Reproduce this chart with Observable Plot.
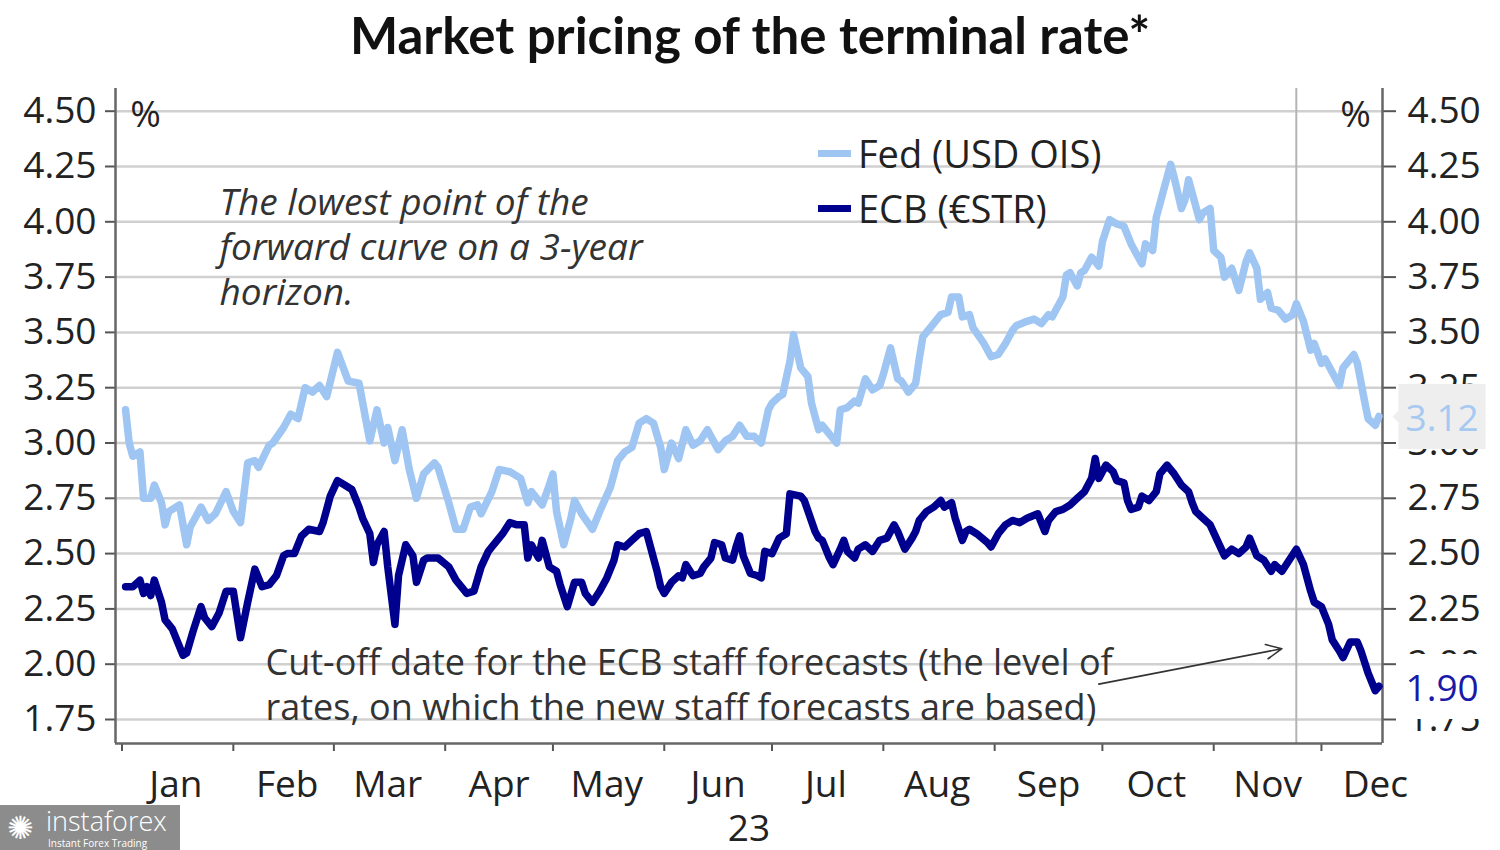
<!DOCTYPE html>
<html>
<head>
<meta charset="utf-8">
<script src="https://cdn.jsdelivr.net/npm/d3@7"></script>
<script src="https://cdn.jsdelivr.net/npm/@observablehq/plot@0.6"></script>
<style>
  html, body { margin: 0; padding: 0; background: #fff; }
  body { width: 1500px; height: 850px; overflow: hidden; position: relative; font-family: "Open Sans", sans-serif; color: #222; }
  #title { position: absolute; left: 0; top: 5px; width: 1500px; text-align: center; font-family: Lato, sans-serif; font-weight: 700; font-size: 51px; line-height: 60px; color: #111; }
  #chart { position: absolute; left: 0; top: 78px; }
  .lg { position: absolute; font-size: 38px; line-height: 46px; color: #222; white-space: nowrap; }
  .sw { position: absolute; width: 33px; height: 7px; }
  #logo { position: absolute; left: 0; top: 805px; width: 180px; height: 45px; background: #8c8c8c; color: #fff; }
  #logo .big { position: absolute; left: 46px; top: 1px; font-size: 27px; line-height: 29px; font-family: "Open Sans", sans-serif; font-weight: 300; white-space: nowrap; }
  #logo .small { position: absolute; left: 48px; top: 33px; font-size: 10px; line-height: 11px; white-space: nowrap; }
  #logo .icon { position: absolute; left: 7px; top: 4px; font-size: 32px; line-height: 36px; }
</style>
</head>
<body>
<div id="title">Market pricing of the terminal rate*</div>
<div id="chart"></div>
<div class="sw" style="left:818px; top:150px; background:#9fc5f3;"></div>
<div class="lg" style="left:858px; top:130px;">Fed (USD OIS)</div>
<div class="sw" style="left:818px; top:205px; background:#00008f;"></div>
<div class="lg" style="left:858px; top:185px;">ECB (€STR)</div>
<div id="logo"><span class="icon">✺</span><span class="big">instaforex</span><span class="small">Instant Forex Trading</span></div>
<script>
// ---------- DATA ----------
const fedDates = ["2023-01-02","2023-01-03","2023-01-04","2023-01-06","2023-01-07","2023-01-09","2023-01-10","2023-01-12","2023-01-13","2023-01-14","2023-01-17","2023-01-19","2023-01-20","2023-01-23","2023-01-25","2023-01-27","2023-01-30","2023-02-01","2023-02-03","2023-02-05","2023-02-07","2023-02-08","2023-02-11","2023-02-12","2023-02-15","2023-02-17","2023-02-19","2023-02-21","2023-02-23","2023-02-25","2023-02-27","2023-03-02","2023-03-05","2023-03-08","2023-03-11","2023-03-13","2023-03-15","2023-03-16","2023-03-18","2023-03-20","2023-03-22","2023-03-24","2023-03-26","2023-03-29","2023-03-30","2023-04-02","2023-04-04","2023-04-06","2023-04-08","2023-04-10","2023-04-11","2023-04-14","2023-04-16","2023-04-19","2023-04-22","2023-04-24","2023-04-25","2023-04-28","2023-04-30","2023-05-01","2023-05-02","2023-05-04","2023-05-06","2023-05-07","2023-05-09","2023-05-12","2023-05-14","2023-05-17","2023-05-19","2023-05-21","2023-05-23","2023-05-25","2023-05-27","2023-05-29","2023-05-31","2023-06-01","2023-06-03","2023-06-05","2023-06-07","2023-06-09","2023-06-11","2023-06-13","2023-06-14","2023-06-16","2023-06-18","2023-06-20","2023-06-22","2023-06-24","2023-06-26","2023-06-28","2023-06-30","2023-07-01","2023-07-03","2023-07-04","2023-07-06","2023-07-07","2023-07-09","2023-07-11","2023-07-12","2023-07-14","2023-07-15","2023-07-17","2023-07-19","2023-07-20","2023-07-22","2023-07-24","2023-07-25","2023-07-27","2023-07-29","2023-07-31","2023-08-01","2023-08-03","2023-08-05","2023-08-06","2023-08-08","2023-08-10","2023-08-11","2023-08-12","2023-08-15","2023-08-17","2023-08-19","2023-08-20","2023-08-22","2023-08-23","2023-08-25","2023-08-26","2023-08-29","2023-08-31","2023-09-02","2023-09-04","2023-09-06","2023-09-07","2023-09-10","2023-09-12","2023-09-14","2023-09-16","2023-09-17","2023-09-20","2023-09-21","2023-09-22","2023-09-24","2023-09-25","2023-09-26","2023-09-28","2023-09-30","2023-10-01","2023-10-03","2023-10-05","2023-10-07","2023-10-09","2023-10-12","2023-10-13","2023-10-15","2023-10-16","2023-10-18","2023-10-20","2023-10-21","2023-10-23","2023-10-24","2023-10-25","2023-10-26","2023-10-28","2023-10-29","2023-10-31","2023-11-01","2023-11-03","2023-11-04","2023-11-06","2023-11-08","2023-11-10","2023-11-11","2023-11-13","2023-11-14","2023-11-16","2023-11-17","2023-11-19","2023-11-21","2023-11-23","2023-11-24","2023-11-26","2023-11-28","2023-11-29","2023-12-01","2023-12-02","2023-12-04","2023-12-06","2023-12-07","2023-12-10","2023-12-11","2023-12-13","2023-12-14","2023-12-16","2023-12-17"];
const fedValues = [3.15,3.00,2.94,2.96,2.75,2.75,2.81,2.73,2.63,2.69,2.72,2.54,2.62,2.71,2.65,2.68,2.78,2.69,2.64,2.91,2.92,2.89,2.99,3.00,3.07,3.13,3.11,3.25,3.23,3.26,3.21,3.41,3.28,3.27,3.01,3.15,3.00,3.07,2.92,3.06,2.88,2.75,2.86,2.91,2.89,2.73,2.61,2.61,2.71,2.72,2.68,2.78,2.88,2.87,2.84,2.73,2.78,2.72,2.81,2.86,2.69,2.54,2.66,2.74,2.68,2.61,2.69,2.80,2.92,2.96,2.98,3.09,3.11,3.09,2.98,2.88,3.00,2.93,3.06,2.99,3.01,3.06,3.03,2.97,3.01,3.03,3.08,3.03,3.03,3.00,3.15,3.18,3.21,3.22,3.37,3.49,3.34,3.30,3.18,3.06,3.08,3.04,3.00,3.15,3.16,3.19,3.18,3.29,3.24,3.26,3.31,3.43,3.29,3.28,3.23,3.27,3.38,3.48,3.54,3.58,3.59,3.66,3.66,3.57,3.58,3.52,3.45,3.39,3.40,3.45,3.51,3.53,3.55,3.56,3.54,3.58,3.57,3.66,3.76,3.77,3.71,3.77,3.78,3.84,3.80,3.91,4.01,3.99,3.98,3.90,3.81,3.90,3.87,4.02,4.14,4.26,4.20,4.06,4.10,4.19,4.13,4.01,4.04,4.06,3.87,3.84,3.75,3.79,3.69,3.82,3.86,3.79,3.65,3.68,3.61,3.60,3.56,3.58,3.63,3.55,3.42,3.45,3.36,3.38,3.32,3.26,3.34,3.40,3.36,3.19,3.11,3.08,3.12];

const ecbDates = ["2023-01-02","2023-01-04","2023-01-06","2023-01-07","2023-01-08","2023-01-09","2023-01-10","2023-01-12","2023-01-13","2023-01-15","2023-01-18","2023-01-19","2023-01-21","2023-01-23","2023-01-24","2023-01-26","2023-01-28","2023-01-30","2023-02-01","2023-02-03","2023-02-05","2023-02-07","2023-02-09","2023-02-11","2023-02-13","2023-02-15","2023-02-16","2023-02-18","2023-02-20","2023-02-22","2023-02-25","2023-02-26","2023-02-28","2023-03-02","2023-03-04","2023-03-06","2023-03-08","2023-03-09","2023-03-11","2023-03-12","2023-03-13","2023-03-15","2023-03-16","2023-03-18","2023-03-19","2023-03-21","2023-03-23","2023-03-24","2023-03-26","2023-03-27","2023-03-30","2023-04-02","2023-04-04","2023-04-07","2023-04-09","2023-04-11","2023-04-13","2023-04-14","2023-04-17","2023-04-19","2023-04-21","2023-04-23","2023-04-24","2023-04-25","2023-04-27","2023-04-28","2023-04-30","2023-05-02","2023-05-03","2023-05-05","2023-05-07","2023-05-09","2023-05-10","2023-05-12","2023-05-14","2023-05-16","2023-05-18","2023-05-19","2023-05-21","2023-05-23","2023-05-25","2023-05-27","2023-05-28","2023-05-30","2023-05-31","2023-06-01","2023-06-03","2023-06-05","2023-06-06","2023-06-07","2023-06-09","2023-06-11","2023-06-12","2023-06-14","2023-06-15","2023-06-17","2023-06-18","2023-06-20","2023-06-21","2023-06-22","2023-06-23","2023-06-25","2023-06-27","2023-06-28","2023-06-29","2023-07-01","2023-07-03","2023-07-05","2023-07-06","2023-07-09","2023-07-10","2023-07-13","2023-07-14","2023-07-15","2023-07-17","2023-07-18","2023-07-20","2023-07-21","2023-07-22","2023-07-24","2023-07-25","2023-07-27","2023-07-29","2023-07-31","2023-08-02","2023-08-04","2023-08-05","2023-08-07","2023-08-09","2023-08-10","2023-08-11","2023-08-13","2023-08-15","2023-08-17","2023-08-18","2023-08-20","2023-08-21","2023-08-23","2023-08-24","2023-08-25","2023-08-27","2023-08-30","2023-08-31","2023-09-02","2023-09-04","2023-09-06","2023-09-08","2023-09-10","2023-09-13","2023-09-15","2023-09-16","2023-09-18","2023-09-20","2023-09-22","2023-09-24","2023-09-26","2023-09-28","2023-09-29","2023-09-30","2023-10-01","2023-10-02","2023-10-04","2023-10-05","2023-10-07","2023-10-08","2023-10-09","2023-10-11","2023-10-12","2023-10-14","2023-10-16","2023-10-17","2023-10-19","2023-10-21","2023-10-23","2023-10-25","2023-10-26","2023-10-27","2023-10-29","2023-10-31","2023-11-02","2023-11-04","2023-11-06","2023-11-08","2023-11-10","2023-11-11","2023-11-13","2023-11-15","2023-11-17","2023-11-18","2023-11-20","2023-11-22","2023-11-24","2023-11-26","2023-11-28","2023-11-29","2023-12-01","2023-12-03","2023-12-04","2023-12-06","2023-12-07","2023-12-09","2023-12-11","2023-12-12","2023-12-14","2023-12-16","2023-12-17"];
const ecbValues = [2.35,2.35,2.38,2.32,2.35,2.31,2.38,2.28,2.20,2.16,2.04,2.05,2.16,2.26,2.21,2.17,2.23,2.33,2.33,2.12,2.28,2.43,2.35,2.36,2.40,2.49,2.50,2.50,2.58,2.61,2.60,2.64,2.76,2.83,2.81,2.79,2.71,2.66,2.59,2.46,2.54,2.60,2.44,2.18,2.40,2.54,2.49,2.37,2.47,2.48,2.48,2.44,2.38,2.32,2.33,2.44,2.51,2.53,2.59,2.64,2.63,2.63,2.48,2.54,2.48,2.56,2.44,2.42,2.36,2.26,2.37,2.37,2.32,2.28,2.33,2.39,2.47,2.54,2.53,2.56,2.59,2.60,2.54,2.42,2.35,2.32,2.37,2.40,2.39,2.45,2.40,2.41,2.44,2.48,2.55,2.54,2.48,2.47,2.53,2.58,2.49,2.41,2.40,2.39,2.51,2.50,2.57,2.59,2.77,2.76,2.74,2.60,2.57,2.56,2.48,2.45,2.52,2.56,2.51,2.48,2.52,2.54,2.51,2.56,2.57,2.63,2.60,2.52,2.57,2.60,2.65,2.69,2.71,2.74,2.71,2.73,2.66,2.56,2.60,2.61,2.59,2.55,2.53,2.59,2.63,2.65,2.64,2.66,2.68,2.60,2.65,2.69,2.70,2.72,2.75,2.78,2.84,2.93,2.84,2.87,2.90,2.87,2.83,2.82,2.74,2.70,2.71,2.76,2.74,2.78,2.86,2.90,2.86,2.81,2.78,2.73,2.69,2.66,2.63,2.56,2.49,2.52,2.50,2.53,2.57,2.49,2.47,2.42,2.45,2.42,2.47,2.52,2.45,2.33,2.28,2.26,2.18,2.11,2.06,2.03,2.10,2.10,2.06,1.96,1.88,1.90];

const seriesNames = ["Fed (USD OIS)", "ECB (€STR)"];
const monthLabels = ["Jan","Feb","Mar","Apr","May","Jun","Jul","Aug","Sep","Oct","Nov","Dec"];
const yTicks = [1.75, 2.00, 2.25, 2.50, 2.75, 3.00, 3.25, 3.50, 3.75, 4.00, 4.25, 4.50];
const yearLabel = "23";
const cutoffDate = ["2023-11-24"];
const noteText = "The lowest point of the\nforward curve on a 3-year\nhorizon.";
const cutoffText = "Cut-off date for the ECB staff forecasts (the level of\nrates, on which the new staff forecasts are based)";
// arrow (annotation) from the text to the cut-off line
const arrowFrom = {date: "2023-09-30", value: 1.91};
const arrowTo = {date: "2023-11-20", value: 2.07};

// ---------- BUILD ----------
const FED = "#9fc5f3", ECB = "#00008f";
const parse = d3.utcParse("%Y-%m-%d");
const fed = fedDates.map((d, i) => ({date: parse(d), value: fedValues[i], series: seriesNames[0]}));
const ecb = ecbDates.map((d, i) => ({date: parse(d), value: ecbValues[i], series: seriesNames[1]}));
const day = 864e5;
const jan1 = Date.UTC(2023, 0, 1);
const X0 = new Date(jan1 - 1.81 * day);
const X1 = new Date(jan1 + 351 * day);
const Y0 = 1.6415, Y1 = 4.6026;
const monthStarts = d3.range(12).map(m => new Date(Date.UTC(2023, m, 1)));
const midMonths = d3.range(12).map(m => new Date(Date.UTC(2023, m, 16)));
const fmt = d => d.toFixed(2);
const font = '"Open Sans", sans-serif';
const FS = 37;

const chart = Plot.plot({
  width: 1500,
  height: 772,
  marginLeft: 115,
  marginRight: 118,
  marginTop: 10,
  marginBottom: 107,
  style: {fontFamily: font, fontSize: FS + "px", color: "#222", background: "transparent", overflow: "visible"},
  x: {type: "utc", domain: [X0, X1]},
  y: {domain: [Y0, Y1]},
  marks: [
    Plot.ruleY(yTicks, {stroke: "#d0d0d0", strokeWidth: 2.5}),
    Plot.ruleX(cutoffDate.map(parse), {stroke: "#b4b4b4", strokeWidth: 2}),
    Plot.axisY({anchor: "left", ticks: yTicks, tickFormat: fmt, tickSize: 10, tickPadding: 9, fontSize: FS, stroke: "#555", strokeWidth: 2, fill: "#222", label: null}),
    Plot.axisY({anchor: "right", ticks: yTicks, tickFormat: fmt, tickSize: 13, tickPadding: 12, fontSize: FS, stroke: "#555", strokeWidth: 2, fill: "#222", label: null}),
    Plot.axisX({ticks: monthStarts, tickFormat: () => "", tickSize: 8, stroke: "#555", strokeWidth: 2, fill: "none", label: null}),
    Plot.axisX({ticks: midMonths, tickFormat: d => monthLabels[d.getUTCMonth()], tickSize: 0, tickPadding: 27, fontSize: FS, fill: "#222", label: null}),
    Plot.ruleX([X0, X1], {stroke: "#666", strokeWidth: 2.5}),
    Plot.ruleY([Y0], {stroke: "#666", strokeWidth: 2.5}),
    Plot.text(["%"], {frameAnchor: "top-left", textAnchor: "middle", lineAnchor: "middle", dx: 30, dy: 27, fontSize: FS, fill: "#222"}),
    Plot.text(["%"], {frameAnchor: "top-right", textAnchor: "middle", lineAnchor: "middle", dx: -27, dy: 27, fontSize: FS, fill: "#222"}),
    Plot.text([noteText], {frameAnchor: "top-left", textAnchor: "start", lineAnchor: "middle", dx: 104, dy: 157, fontSize: 37, fontStyle: "italic", lineHeight: 1.22, fill: "#333"}),
    Plot.text([cutoffText], {frameAnchor: "bottom-left", textAnchor: "start", lineAnchor: "middle", dx: 150, dy: -60, fontSize: 36, lineHeight: 1.25, fill: "#333"}),
    Plot.arrow([{x1: parse(arrowFrom.date), y1: arrowFrom.value, x2: parse(arrowTo.date), y2: arrowTo.value}], {x1: "x1", y1: "y1", x2: "x2", y2: "y2", stroke: "#333", strokeWidth: 1.6, headLength: 16, headAngle: 50}),
    Plot.text([yearLabel], {frameAnchor: "bottom", dy: 86, lineAnchor: "middle", fontSize: FS, fill: "#222"}),
    Plot.line(fed, {x: "date", y: "value", stroke: FED, strokeWidth: 7.5, strokeLinejoin: "round"}),
    Plot.line(ecb, {x: "date", y: "value", stroke: ECB, strokeWidth: 7.5, strokeLinejoin: "round"}),
    Plot.tip([fed[fed.length - 1]], {x: "date", y: "value", title: d => fmt(d.value), anchor: "left", dx: 14, fill: "#eeeeee", stroke: "none", fontSize: FS, textPadding: 7, pointerSize: 12, pathFilter: "none"}),
    Plot.tip([ecb[ecb.length - 1]], {x: "date", y: "value", title: d => fmt(d.value), anchor: "left", dx: 14, fill: "#ffffff", stroke: "none", fontSize: FS, textPadding: 7, pointerSize: 12, pathFilter: "none"})
  ]
});
document.getElementById("chart").appendChild(chart);
const tipColors = ["#a6c9f2", "#1a1aa8"];
chart.querySelectorAll('g[aria-label="tip"]').forEach((g, i) => {
  g.querySelectorAll("text, tspan").forEach(t => { t.setAttribute("fill", tipColors[i]); t.style.fill = tipColors[i]; });
});
</script>
</body>
</html>
